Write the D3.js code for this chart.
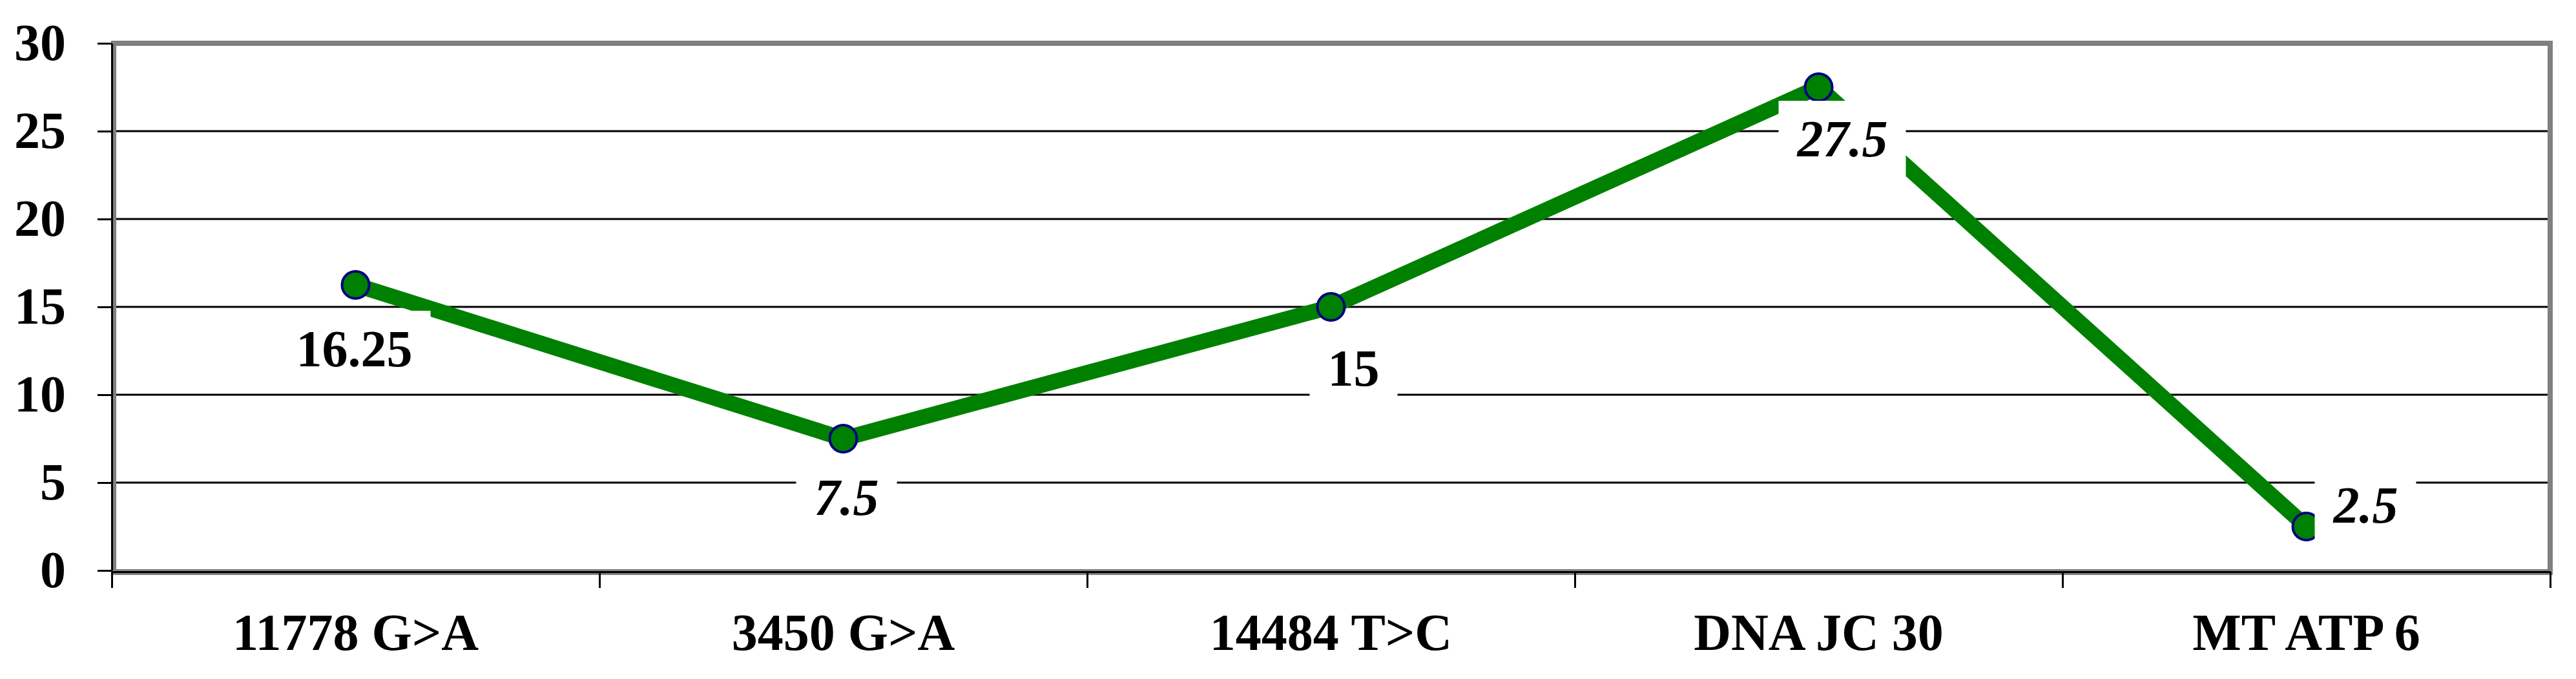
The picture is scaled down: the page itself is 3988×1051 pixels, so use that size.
<!DOCTYPE html>
<html>
<head>
<meta charset="utf-8">
<script src="https://cdn.jsdelivr.net/npm/d3@7"></script>
<style>
  body { margin: 0; background: #fff; }
  text { font-family: "Liberation Serif", "Times New Roman", serif; font-weight: bold; }
</style>
</head>
<body>
<div id="chart"></div>
<script>
// data
const categories = ["11778 G>A", "3450 G>A", "14484 T>C", "DNA JC 30", "MT ATP 6"];
const values = [16.25, 7.5, 15, 27.5, 2.5];
const yTicks = [0, 5, 10, 15, 20, 25, 30];

// label placement (offset of label centre from its point) and style
const labelDx = [-2, 5, 35, 37, 92];
const labelDy = [99, 91, 95, 80, -33];
const labelItalic = [false, true, false, true, true];

const W = 3988, H = 1051;
const margin = {top: 67, right: 40, bottom: 168, left: 173};
const width = W - margin.left - margin.right;
const height = H - margin.top - margin.bottom;

const svg = d3.select("#chart").append("svg")
    .attr("width", W)
    .attr("height", H);

const g = svg.append("g")
    .attr("transform", "translate(" + margin.left + "," + margin.top + ")");

const x = d3.scaleBand()
    .domain(categories)
    .range([0, width])
    .padding(0);

const y = d3.scaleLinear()
    .domain([0, 30])
    .range([height, 0]);

// gridlines
g.append("g")
    .selectAll("line")
    .data(yTicks)
    .enter().append("line")
    .attr("x1", 0)
    .attr("x2", width)
    .attr("y1", d => y(d))
    .attr("y2", d => y(d))
    .attr("stroke", "#000")
    .attr("stroke-width", 3);

// plot area border
g.append("rect")
    .attr("x", 3)
    .attr("y", 0)
    .attr("width", width - 3)
    .attr("height", height + 3)
    .attr("fill", "none")
    .attr("stroke", "#808080")
    .attr("stroke-width", 8);

// y axis
const yAxis = g.append("g")
    .attr("class", "y axis")
    .call(d3.axisLeft(y).tickValues(yTicks).tickSize(22).tickSizeOuter(0).tickPadding(49));

// x axis: boundary ticks
const xEdge = d3.scaleLinear().domain([0, categories.length]).range([0, width]);
const xTicks = g.append("g")
    .attr("class", "x axis")
    .attr("transform", "translate(0," + (height + 2) + ")")
    .call(d3.axisBottom(xEdge).ticks(categories.length).tickFormat("").tickSize(25).tickSizeOuter(0));

// x axis: category labels
const xLabels = g.append("g")
    .attr("transform", "translate(0," + (height + 2) + ")")
    .call(d3.axisBottom(x).tickSize(0).tickPadding(121));
xLabels.select(".domain").remove();
xLabels.selectAll(".tick text").attr("dy", "0");

[yAxis, xTicks].forEach(a => {
    a.select(".domain").attr("stroke", "#000").attr("stroke-width", 3);
    a.selectAll(".tick line").attr("stroke", "#000").attr("stroke-width", 3);
});
[yAxis, xLabels].forEach(a => {
    a.selectAll(".tick text")
        .attr("fill", "#000")
        .style("font-size", "80px")
        .style("font-family", "'Liberation Serif', 'Times New Roman', serif")
        .style("font-weight", "bold");
});

// series line
const cx = (d, i) => x(categories[i]) + x.bandwidth() / 2;
const line = d3.line()
    .x(cx)
    .y(d => y(d));

g.append("path")
    .datum(values)
    .attr("d", line)
    .attr("fill", "none")
    .attr("stroke", "#008000")
    .attr("stroke-width", 24);

g.selectAll("circle.point")
    .data(values)
    .enter().append("circle")
    .attr("class", "point")
    .attr("cx", cx)
    .attr("cy", d => y(d))
    .attr("r", 21)
    .attr("fill", "#008000")
    .attr("stroke", "#000080")
    .attr("stroke-width", 4);

// data labels with white boxes
const labels = g.selectAll("g.label")
    .data(values)
    .enter().append("g")
    .attr("class", "label")
    .attr("transform", (d, i) => "translate(" + (cx(d, i) + labelDx[i]) + "," + (y(d) + labelDy[i]) + ")");

labels.append("rect").attr("fill", "#fff");

labels.append("text")
    .attr("text-anchor", "middle")
    .attr("y", 27)
    .style("font-size", "80px")
    .style("font-style", (d, i) => labelItalic[i] ? "italic" : "normal")
    .text(d => d);

labels.each(function() {
    const t = d3.select(this).select("text").node().getBBox();
    d3.select(this).select("rect")
        .attr("x", t.x - 28)
        .attr("width", t.width + 56)
        .attr("y", -59)
        .attr("height", 118);
});
</script>
</body>
</html>
